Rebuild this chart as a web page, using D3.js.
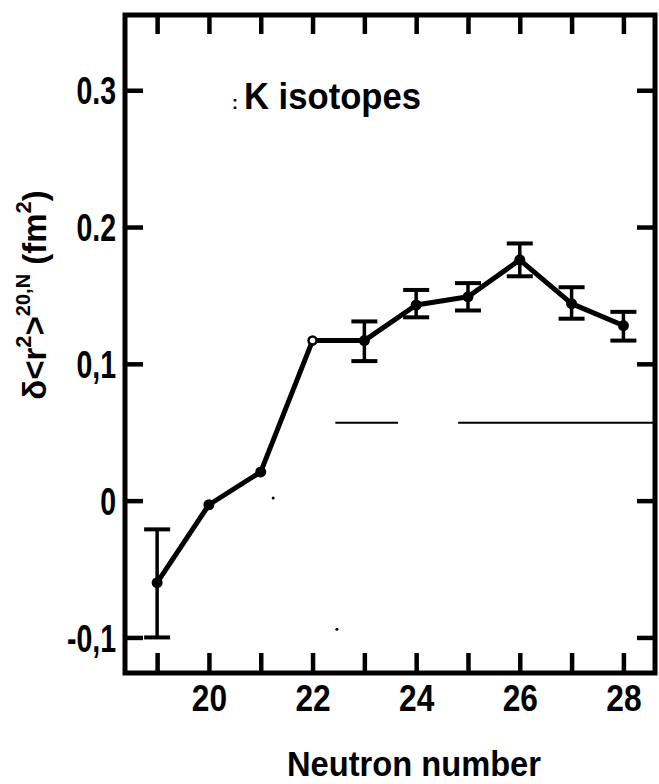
<!DOCTYPE html>
<html><head><meta charset="utf-8">
<script src="https://cdn.jsdelivr.net/npm/d3@7"></script>
<style>
html,body{margin:0;padding:0;background:#fff;}
svg{display:block;}
text{font-family:"Liberation Sans",Arial,sans-serif;font-weight:bold;fill:#000;}
</style></head>
<body>
<svg id="chart" width="659" height="784"></svg>
<script>
// ---- data ----
const neutrons = [19, 20, 21, 22, 23, 24, 25, 26, 27, 28];
const deltaR2 = [-0.060, -0.003, 0.021, 0.117, 0.117, 0.143, 0.149, 0.176, 0.144, 0.128];
const errLow  = [-0.100, null, null, null, 0.102, 0.134, 0.139, 0.164, 0.133, 0.117];
const errHigh = [-0.021, null, null, null, 0.131, 0.154, 0.159, 0.188, 0.156, 0.138];
const openMarker = [false, false, false, true, false, false, false, false, false, false];
const xTicks = [19, 20, 21, 22, 23, 24, 25, 26, 27, 28];
const xTickLabels = ["", "20", "", "22", "", "24", "", "26", "", "28"];
const yTicks = [-0.1, 0, 0.1, 0.2, 0.3];
const yTickLabels = ["-0,1", "0", "0,1", "0.2", "0.3"];
const refLevel = 0.057;
const refSegments = [[22.44, 23.65], [24.81, 28.61]];
const specks = [[21.24, 0.002], [22.47, -0.094]];
const xDomain = [18.38, 28.61];
const yDomain = [-0.126, 0.355];

// ---- layout ----
const mL = 125, mR = 655, mT = 15, mB = 673;
const svg = d3.select("#chart");
const x = d3.scaleLinear().domain(xDomain).range([mL, mR]);
const y = d3.scaleLinear().domain(yDomain).range([mB, mT]);

function squeeze(sel, f) {
  sel.each(function () {
    const w = this.getComputedTextLength();
    if (w > 0) d3.select(this).attr("textLength", w * f).attr("lengthAdjust", "spacingAndGlyphs");
  });
}

const axB = svg.append("g").attr("transform", `translate(0,${mB})`)
  .call(d3.axisBottom(x).tickValues(xTicks).tickSizeInner(-20).tickSizeOuter(0).tickPadding(12)
    .tickFormat((d, i) => xTickLabels[i]));
const axT = svg.append("g").attr("transform", `translate(0,${mT})`)
  .call(d3.axisTop(x).tickValues(xTicks).tickSizeInner(-19).tickSizeOuter(0).tickFormat(""));
const axL = svg.append("g").attr("transform", `translate(${mL},0)`)
  .call(d3.axisLeft(y).tickValues(yTicks).tickSizeInner(-18).tickSizeOuter(0).tickPadding(9)
    .tickFormat((d, i) => yTickLabels[i]));
const axR = svg.append("g").attr("transform", `translate(${mR},0)`)
  .call(d3.axisRight(y).tickValues(yTicks).tickSizeInner(-18).tickSizeOuter(0).tickFormat(""));
[axB, axT, axL, axR].forEach(g => {
  g.select(".domain").remove();
  g.selectAll(".tick line").attr("stroke", "#000").attr("stroke-width", 4.5);
  g.selectAll(".tick text").attr("fill", "#000")
    .style("font-family", '"Liberation Sans",Arial,sans-serif').style("font-weight", "bold");
});
axB.selectAll(".tick text").attr("font-size", 36).call(squeeze, 0.88);
axL.selectAll(".tick text").attr("font-size", 38).attr("dy", "0.36em").call(squeeze, 0.75);

svg.append("rect").attr("x", mL).attr("y", mT).attr("width", mR - mL).attr("height", mB - mT)
  .attr("fill", "none").attr("stroke", "#000").attr("stroke-width", 5);

svg.append("g").selectAll("line").data(refSegments).join("line")
  .attr("x1", d => x(d[0])).attr("x2", d => x(d[1]))
  .attr("y1", y(refLevel)).attr("y2", y(refLevel))
  .attr("stroke", "#000").attr("stroke-width", 2);

svg.append("g").selectAll("circle").data(specks).join("circle")
  .attr("cx", d => x(d[0])).attr("cy", d => y(d[1])).attr("r", 1.5).attr("fill", "#000");

const pts = neutrons.map((n, i) => ({n, v: deltaR2[i], lo: errLow[i], hi: errHigh[i], open: openMarker[i]}));

const eb = svg.append("g").selectAll("g").data(pts.filter(d => d.lo !== null)).join("g");
eb.append("line").attr("x1", d => x(d.n)).attr("x2", d => x(d.n))
  .attr("y1", d => y(d.lo)).attr("y2", d => y(d.hi)).attr("stroke", "#000").attr("stroke-width", 3.5);
eb.append("line").attr("x1", d => x(d.n) - 13).attr("x2", d => x(d.n) + 13)
  .attr("y1", d => y(d.lo)).attr("y2", d => y(d.lo)).attr("stroke", "#000").attr("stroke-width", 4);
eb.append("line").attr("x1", d => x(d.n) - 13).attr("x2", d => x(d.n) + 13)
  .attr("y1", d => y(d.hi)).attr("y2", d => y(d.hi)).attr("stroke", "#000").attr("stroke-width", 4);

svg.append("path").datum(pts)
  .attr("d", d3.line().x(d => x(d.n)).y(d => y(d.v)))
  .attr("fill", "none").attr("stroke", "#000").attr("stroke-width", 5).attr("stroke-linejoin", "round");

svg.append("g").selectAll("circle").data(pts).join("circle")
  .attr("cx", d => x(d.n)).attr("cy", d => y(d.v))
  .attr("r", d => d.open ? 4 : 5.5)
  .attr("fill", d => d.open ? "#fff" : "#000")
  .attr("stroke", "#000").attr("stroke-width", d => d.open ? 2.5 : 0);

svg.append("text").attr("x", 232).attr("y", 109).attr("font-size", 18).text(":");
svg.append("text").attr("x", 244).attr("y", 109).attr("font-size", 36)
  .attr("textLength", 177).attr("lengthAdjust", "spacingAndGlyphs").text("K isotopes");

svg.append("text").attr("x", 287).attr("y", 776)
  .attr("font-size", 35).attr("textLength", 254).attr("lengthAdjust", "spacingAndGlyphs")
  .text("Neutron number");

const yt = svg.append("text").attr("transform", "translate(46,295) rotate(-90)")
  .attr("text-anchor", "middle").attr("font-size", 33);
yt.append("tspan").text("δ<r");
yt.append("tspan").attr("font-size", 22).attr("dy", -15).text("2");
yt.append("tspan").attr("dy", 15).text(">");
yt.append("tspan").attr("font-size", 20).attr("dy", -16).text("20,N");
yt.append("tspan").attr("dy", 16).text(" (fm");
yt.append("tspan").attr("font-size", 22).attr("dy", -15).text("2");
yt.append("tspan").attr("dy", 15).text(")");
</script>
</body></html>
